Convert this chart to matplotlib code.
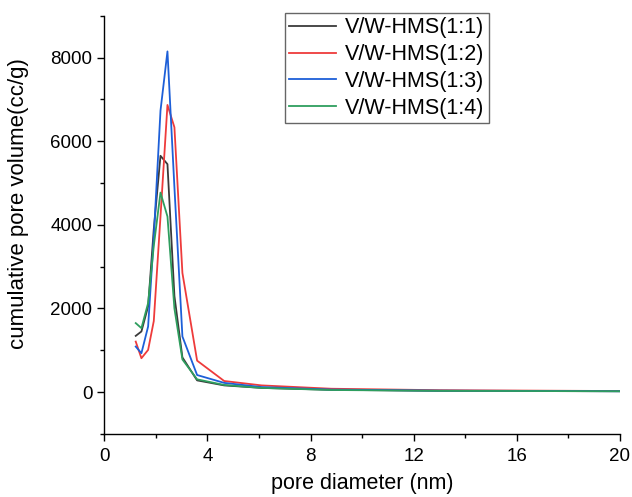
import matplotlib.pyplot as plt
from matplotlib.ticker import MultipleLocator

plt.rcParams['font.family'] = ['Liberation Sans', 'DejaVu Sans']

# pore diameter (nm)
pore_d = [1.22, 1.44, 1.70, 1.92, 2.18, 2.45, 2.72, 3.03, 3.60, 4.65, 6.10, 8.80, 13.0, 20.0]

# cumulative pore volume (cc/g)
vw_11 = [1345, 1450, 2050, 3900, 5653, 5453, 2300, 830, 280, 160, 100, 55, 30, 20]
vw_12 = [1208, 810, 1009, 1700, 4200, 6870, 6335, 2850, 752, 265, 160, 80, 45, 25]
vw_13 = [1089, 930, 1569, 3700, 6734, 8151, 4900, 1330, 408, 220, 120, 60, 35, 20]
vw_14 = [1650, 1530, 2130, 3500, 4773, 4200, 2000, 780, 305, 170, 100, 50, 30, 20]

labels = ['V/W-HMS(1:1)', 'V/W-HMS(1:2)', 'V/W-HMS(1:3)', 'V/W-HMS(1:4)']
colors = ['#3a3a3a', '#ee3b3b', '#1d5fd8', '#2e9e5e']

fig = plt.figure(figsize=(6.32, 4.97), dpi=100)
ax = fig.add_axes([0.165, 0.127, 0.816, 0.841])

for ys, lab, c in zip([vw_11, vw_12, vw_13, vw_14], labels, colors):
    ax.plot(pore_d, ys, color=c, lw=1.3, label=lab)

ax.set_xlim(0, 20)
ax.set_ylim(-1000, 9000)
ax.xaxis.set_major_locator(MultipleLocator(4))
ax.xaxis.set_minor_locator(MultipleLocator(2))
ax.yaxis.set_major_locator(MultipleLocator(2000))
ax.yaxis.set_minor_locator(MultipleLocator(1000))
ax.tick_params(which='major', direction='out', length=5, width=1, labelsize=13.5)
ax.tick_params(axis='x', which='major', pad=5)
ax.tick_params(which='minor', direction='out', length=3, width=1)

for s in ['top', 'right']:
    ax.spines[s].set_visible(False)
for s in ['left', 'bottom']:
    ax.spines[s].set_linewidth(1)

# axis titles placed where they sit in the original
fig.text(362 / 632, 1 - 484 / 497, 'pore diameter (nm)', fontsize=15.5,
         ha='center', va='center')
fig.text(19 / 632, 1 - 204 / 497, 'cumulative pore volume(cc/g)', fontsize=16,
         ha='center', va='center', rotation=90)

leg = ax.legend(loc='upper left', bbox_to_anchor=(0.35, 1.007), fontsize=15.5,
                handlelength=2.2, fancybox=False, framealpha=1,
                borderpad=0.2, labelspacing=0.27, handletextpad=0.4,
                borderaxespad=0)
leg.get_frame().set_edgecolor('#666666')
leg.get_frame().set_linewidth(1)

fig.savefig('out.png', dpi=100)
